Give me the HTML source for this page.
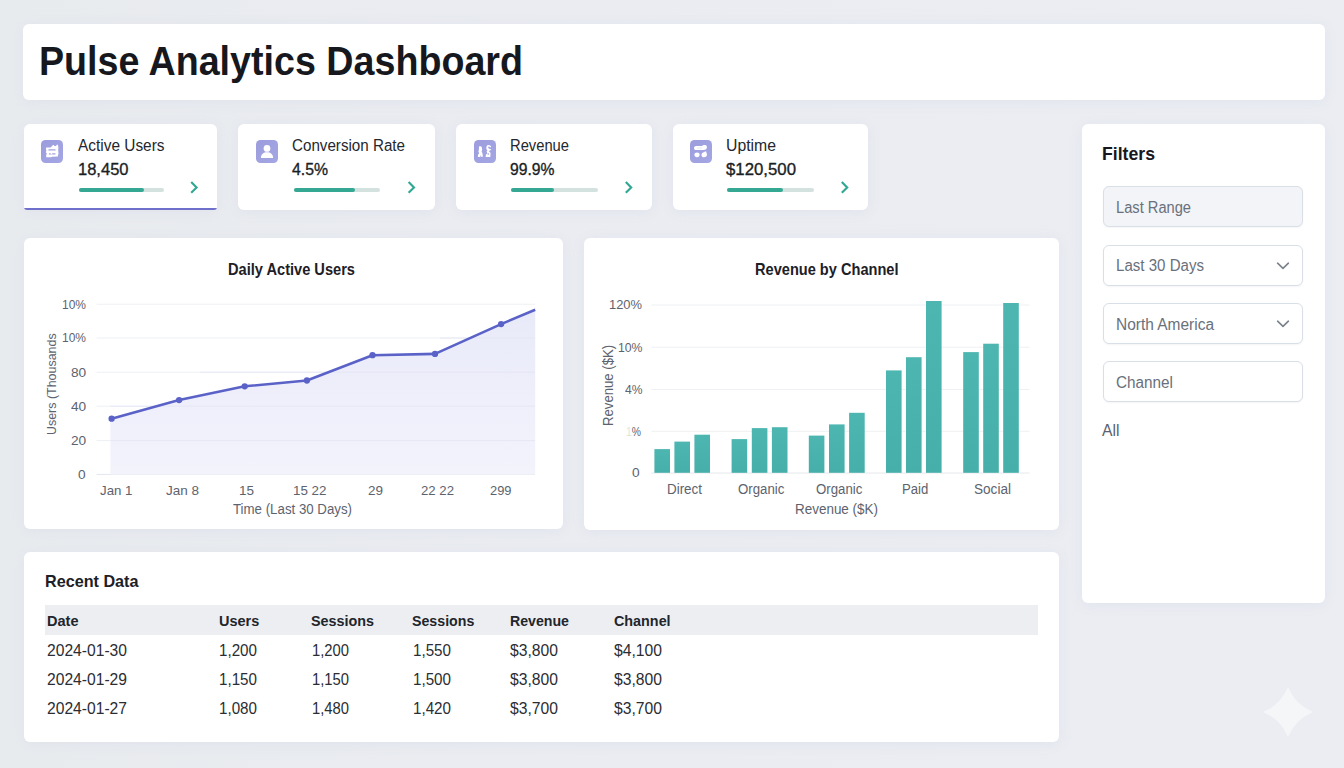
<!DOCTYPE html>
<html lang="en"><head><meta charset="utf-8"><title>Pulse Analytics Dashboard</title>
<style>
*{box-sizing:border-box;margin:0;padding:0}
html,body{width:1344px;height:768px;overflow:hidden}
body{position:relative;background:#e9ecf0;font-family:"Liberation Sans",sans-serif;}
.bg{position:absolute;left:0;top:0;width:1344px;height:768px;
 background:linear-gradient(90deg,#e8ebee 0%,#eaecf1 40%,#ebedf2 100%);}
.card{position:absolute;background:#fff;border-radius:6px;
 box-shadow:0 2px 14px rgba(115,128,200,0.075);}
.t{position:absolute;white-space:nowrap;line-height:1em;transform-origin:0 0;font-family:"Liberation Sans",sans-serif;}
.ico{position:absolute;width:22.4px;height:22.6px;border-radius:4.5px;background:linear-gradient(135deg,#9c9cdd,#a4a7e4);}
.track{position:absolute;height:4px;border-radius:3px;background:#d3e2df;}
.fill{position:absolute;left:0;top:0;height:100%;border-radius:3px;background:#35a893;}
.inp{position:absolute;left:1103px;width:199.5px;height:41px;border:1px solid #d9dfe6;border-radius:6px;background:#fff;
 box-shadow:0 1px 2px rgba(80,90,120,0.06);}
.abs{position:absolute}

</style></head>
<body>
<div class="bg"></div>
<!-- header -->
<div class="card" style="left:23px;top:23.6px;width:1302px;height:76.4px;"></div>

<!-- KPI cards -->
<div class="card" style="left:24px;top:124px;width:192.6px;height:86.2px;border-radius:6px 6px 3px 3px;overflow:hidden;"><div style="position:absolute;left:0;right:0;bottom:0;height:2.2px;background:#6f70cb;"></div></div>
<div class="card" style="left:238.2px;top:124px;width:196.8px;height:85.6px;"></div>
<div class="card" style="left:456px;top:124px;width:195.8px;height:85.6px;"></div>
<div class="card" style="left:672.8px;top:124px;width:195.4px;height:85.6px;"></div>

<!-- KPI icons -->
<div class="ico" style="left:41px;top:140px;"></div>
<div class="ico" style="left:256px;top:140px;"></div>
<div class="ico" style="left:473.6px;top:140px;"></div>
<div class="ico" style="left:689.7px;top:140px;"></div>

<!-- progress bars -->
<div class="track" style="left:78.8px;top:188.4px;width:85.2px;"><div class="fill" style="width:65.4px"></div></div>
<div class="track" style="left:293.5px;top:188.4px;width:86.6px;"><div class="fill" style="width:61.6px"></div></div>
<div class="track" style="left:511px;top:188.4px;width:87px;"><div class="fill" style="width:43.4px"></div></div>
<div class="track" style="left:727.4px;top:188.4px;width:86.6px;"><div class="fill" style="width:55.8px"></div></div>

<!-- chart cards -->
<div class="card" style="left:24.2px;top:238.2px;width:539px;height:291.2px;"></div>
<div class="card" style="left:584px;top:238.2px;width:475.2px;height:291.6px;"></div>
<!-- table card -->
<div class="card" style="left:24.2px;top:552.4px;width:1035px;height:190px;"></div>
<div class="abs" style="left:45px;top:604.5px;width:992.5px;height:30.3px;background:#eceef2;"></div>
<!-- filters card -->
<div class="card" style="left:1082px;top:124.2px;width:242.8px;height:478.4px;"></div>
<div class="inp" style="top:186px;background:#f2f4f7;"></div>
<div class="inp" style="top:245px;"></div>
<div class="inp" style="top:303px;"></div>
<div class="inp" style="top:361px;"></div>

<!-- vector layer -->
<svg class="abs" style="left:0;top:0" width="1344" height="768" viewBox="0 0 1344 768">
 <defs>
  <linearGradient id="bg" x1="0" y1="0" x2="0" y2="1">
   <stop offset="0" stop-color="#4eb6b0"/><stop offset="1" stop-color="#47afa9"/>
  </linearGradient>
  <linearGradient id="lg" x1="0" y1="0" x2="0" y2="1">
   <stop offset="0" stop-color="#e9eaf9"/><stop offset="1" stop-color="#f3f3fc"/>
  </linearGradient>
 </defs>
 <!-- line chart grid -->
 <g stroke="#eef0f4" stroke-width="1">
  <line x1="96.5" x2="535" y1="304.2" y2="304.2"/>
  <line x1="96.5" x2="535" y1="338" y2="338"/>
  <line x1="96.5" x2="535" y1="372.2" y2="372.2"/>
  <line x1="96.5" x2="535" y1="406.2" y2="406.2"/>
  <line x1="96.5" x2="535" y1="440.6" y2="440.6"/>
  <line x1="96.5" x2="535" y1="474.4" y2="474.4" stroke="#e4e6ee"/>
 </g>
 <path d="M110.4 474.4 L110.4 418.9 L111.5 418.7 L179.1 400.1 L244.7 386.3 L306.9 380.5 L372.5 355.2 L435 353.9 L501.1 324.1 L535.2 309.8 L535.2 474.4 Z" fill="url(#lg)"/>
 <g stroke="#e3e4f3" stroke-width="1" opacity="0.7">
  <line x1="110.4" x2="535" y1="440.6" y2="440.6"/>
  <line x1="110.4" x2="535" y1="406.2" y2="406.2"/>
  <line x1="200" x2="535" y1="372.2" y2="372.2"/>
  <line x1="440" x2="535" y1="338" y2="338"/>
 </g>
 <path d="M111.5 418.7 L179.1 400.1 L244.7 386.3 L306.9 380.5 L372.5 355.2 L435 353.9 L501.1 324.1 L535.2 309.8" fill="none" stroke="#5a62c8" stroke-width="2.6" stroke-linejoin="round" stroke-linecap="butt"/>
 <g fill="#5a62c8">
  <circle cx="111.6" cy="418.7" r="3.15"/><circle cx="179.1" cy="400.1" r="3.15"/><circle cx="244.7" cy="386.3" r="3.15"/>
  <circle cx="306.9" cy="380.5" r="3.15"/><circle cx="372.5" cy="355.2" r="3.15"/><circle cx="435" cy="353.9" r="3.15"/>
  <circle cx="501.1" cy="324.1" r="3.15"/>
 </g>

 <!-- bar chart grid -->
 <g stroke="#eef0f3" stroke-width="1">
  <line x1="651.3" x2="1029.6" y1="305" y2="305"/>
  <line x1="651.3" x2="1029.6" y1="347.2" y2="347.2"/>
  <line x1="651.3" x2="1029.6" y1="389.4" y2="389.4"/>
  <line x1="651.3" x2="1029.6" y1="431.3" y2="431.3"/>
  <line x1="651.3" x2="1029.6" y1="473" y2="473" stroke="#e6e8ec"/>
 </g>
 <g fill="url(#bg)">
  <rect x="654.4" y="449.1" width="15.6" height="23.7"/><rect x="674.4" y="441.6" width="15.6" height="31.2"/><rect x="694.4" y="434.7" width="15.6" height="38.1"/>
  <rect x="731.6" y="439.1" width="15.6" height="33.7"/><rect x="751.8" y="428.1" width="15.6" height="44.7"/><rect x="771.9" y="427.2" width="15.6" height="45.6"/>
  <rect x="808.8" y="435.6" width="15.6" height="37.2"/><rect x="829" y="424.4" width="15.6" height="48.4"/><rect x="849.1" y="412.8" width="15.6" height="60"/>
  <rect x="886" y="370.4" width="15.6" height="102.4"/><rect x="906" y="357.2" width="15.6" height="115.6"/><rect x="926" y="301" width="15.6" height="171.8"/>
  <rect x="963.2" y="352.1" width="15.6" height="120.7"/><rect x="983.2" y="343.7" width="15.6" height="129.1"/><rect x="1003.2" y="303" width="15.6" height="169.8"/>
 </g>


 <!-- KPI icon glyphs (local coords 0..22) -->
 <g fill="#fff">
  <!-- active users: swap-like glyph -->
  <g transform="translate(41,140)">
   <path d="M5.2 7.4 H9.6 L12 4.9 H13.4 L13 6.1 H15.2 L15.6 4.7 H16.9 L17.4 7.2 L17.2 10.4 L17.5 13.2 L16.8 16.6 L11.2 16.8 L10 17.3 H5.2 V14.6 L6.1 13.9 L4.8 12.3 L5.4 10.6 L4.9 9 Z"/>
   <rect x="7.3" y="9.3" width="7.4" height="1.3" rx="0.6" fill="#a2a2e2"/>
   <rect x="7.8" y="13.2" width="6.8" height="1.3" rx="0.6" fill="#a2a2e2"/>
   <path d="M9.6 11.6 L11.2 12.9 L11.2 14.8 L9.6 13.8 Z" fill="#fff"/>
  </g>
  <!-- conversion: person -->
  <g transform="translate(256,140)">
   <circle cx="11" cy="8.4" r="3.35"/>
   <path d="M4.9 17.9 C4.9 14.2 7.6 12.3 11 12.3 C14.4 12.3 17.1 14.2 17.1 17.9 Z"/>
  </g>
  <!-- revenue: two glyph blobs -->
  <g transform="translate(473.6,140)">
   <path d="M5.4 6.6 C6.6 6 8 6.4 8.3 7.6 L8.6 10.2 L8 11.2 L8.9 13.6 L9.3 16.6 L7.6 16.9 L7.3 15 L6.6 16.9 L4.3 16.9 L4.4 14.6 L5.6 13.6 L4.8 11.4 L5.3 9.4 Z"/>
   <path d="M14.2 5 C15.8 4.6 17.3 5.4 17.6 6.9 L16.4 7.4 C16 6.6 15.3 6.4 14.8 6.8 C14.2 7.6 15 8.6 16.2 9 L17.8 9.3 L16.6 10.6 L15.2 10.9 L17 13 L16.7 16.9 L12 16.9 L12.4 14.6 L13.8 13.6 L13 11.6 L13.9 10.4 C12.4 9.6 12.2 6.4 14.2 5 Z"/>
   <circle cx="14.7" cy="14" r="0.8" fill="#a2a2e2"/>
  </g>
  <!-- uptime: pill + two blobs -->
  <g transform="translate(689.7,140)">
   <path d="M6.4 5.9 H12.4 C13 5.1 14.4 4.9 15.6 5.1 C17.2 5.3 17.6 7.2 16.9 8.6 C16.4 9.6 15.4 10 14.2 10 H6.4 C3.6 10 3.6 5.9 6.4 5.9 Z"/>
   <ellipse cx="7.3" cy="14.8" rx="2.6" ry="2.35"/>
   <path d="M14.3 12.2 L15.2 11.4 H16.6 L16.8 13 C17.6 14 17.4 16 16.2 16.8 C14.6 17.8 12.2 17.2 11.8 15.4 C11.5 13.8 12.8 12.4 14.3 12.2 Z"/>
   <rect x="7.4" y="7.5" width="5" height="0.9" rx="0.4" fill="#e9e7f6"/>
  </g>
 </g>
 <!-- KPI chevrons -->
 <g fill="none" stroke="#2fa892" stroke-width="2.1" stroke-linecap="butt" stroke-linejoin="miter">
  <path d="M191.2 182 L196.6 187.4 L191.2 192.8"/>
  <path d="M408.6 182 L414 187.4 L408.6 192.8"/>
  <path d="M625.8 182 L631.2 187.4 L625.8 192.8"/>
  <path d="M841.8 182 L847.2 187.4 L841.8 192.8"/>
 </g>
 <!-- select chevrons -->
 <g fill="none" stroke="#7b828c" stroke-width="1.6" stroke-linecap="round" stroke-linejoin="round">
  <path d="M1277.6 263.2 L1283 268.4 L1288.4 263.2"/>
  <path d="M1277.6 321.2 L1283 326.4 L1288.4 321.2"/>
 </g>
 <!-- sparkle watermark -->
 <path d="M1288 688.6 Q1295 705 1311.4 712 Q1295 719 1288 735.4 Q1281 719 1264.6 712 Q1281 705 1288 688.6 Z" fill="#f4f6f8" stroke="#f4f6f8" stroke-width="1.4" stroke-linejoin="round"/>
</svg>

<!-- rotated axis titles -->
<span class="t" id="yl1" style="left:45.2px;top:434.5px;font-size:13.6px;color:#5d636e;transform:rotate(-90deg) scaleX(0.915);transform-origin:0 0;">Users (Thousands</span>
<span class="t" id="yl2" style="left:600.8px;top:425.5px;font-size:14px;color:#5d636e;transform:rotate(-90deg) scaleX(0.94);transform-origin:0 0;">Revenue ($K)</span>

<!-- text layer -->
<span class="t" style="left:38.50px;top:40.79px;font-size:41px;color:#16181d;transform:scaleX(0.9182);font-weight:700;">Pulse Analytics Dashboard</span>
<span class="t" style="left:77.50px;top:138.36px;font-size:16px;color:#24272d;transform:scaleX(0.9633);">Active Users</span>
<span class="t" style="left:77.70px;top:160.64px;font-size:17.2px;color:#1b1e24;transform:scaleX(0.9605);-webkit-text-stroke:0.35px #1b1e24;">18,450</span>
<span class="t" style="left:291.80px;top:138.36px;font-size:16px;color:#24272d;transform:scaleX(0.9482);">Conversion Rate</span>
<span class="t" style="left:292.00px;top:160.64px;font-size:17.2px;color:#1b1e24;transform:scaleX(0.9187);-webkit-text-stroke:0.35px #1b1e24;">4.5%</span>
<span class="t" style="left:510.00px;top:138.36px;font-size:16px;color:#24272d;transform:scaleX(0.9212);">Revenue</span>
<span class="t" style="left:510.20px;top:160.64px;font-size:17.2px;color:#1b1e24;transform:scaleX(0.9131);-webkit-text-stroke:0.35px #1b1e24;">99.9%</span>
<span class="t" style="left:725.50px;top:138.36px;font-size:16px;color:#24272d;transform:scaleX(0.9864);">Uptime</span>
<span class="t" style="left:725.70px;top:160.64px;font-size:17.2px;color:#1b1e24;transform:scaleX(0.9765);-webkit-text-stroke:0.35px #1b1e24;">$120,500</span>
<span class="t" style="left:227.50px;top:261.03px;font-size:16.5px;color:#1d2026;transform:scaleX(0.8857);font-weight:700;">Daily Active Users</span>
<span class="t" style="left:755.25px;top:261.23px;font-size:16.5px;color:#1d2026;transform:scaleX(0.8842);font-weight:700;">Revenue by Channel</span>
<span class="t" style="left:62.00px;top:297.59px;font-size:13.6px;color:#5d636e;transform:scaleX(0.8817);">10%</span>
<span class="t" style="left:62.00px;top:331.39px;font-size:13.6px;color:#5d636e;transform:scaleX(0.8817);">10%</span>
<span class="t" style="left:70.80px;top:365.59px;font-size:13.6px;color:#5d636e;transform:scaleX(1.0050);">80</span>
<span class="t" style="left:70.80px;top:399.59px;font-size:13.6px;color:#5d636e;transform:scaleX(1.0050);">40</span>
<span class="t" style="left:70.80px;top:433.99px;font-size:13.6px;color:#5d636e;transform:scaleX(1.0050);">20</span>
<span class="t" style="left:78.40px;top:467.79px;font-size:13.6px;color:#5d636e;transform:scaleX(1.0050);">0</span>
<span class="t" style="left:99.75px;top:484.49px;font-size:13.6px;color:#5d636e;transform:scaleX(0.9770);">Jan 1</span>
<span class="t" style="left:166.20px;top:484.49px;font-size:13.6px;color:#5d636e;transform:scaleX(0.9920);">Jan 8</span>
<span class="t" style="left:238.50px;top:484.49px;font-size:13.6px;color:#5d636e;transform:scaleX(0.9917);">15</span>
<span class="t" style="left:293.25px;top:484.49px;font-size:13.6px;color:#5d636e;transform:scaleX(0.9844);">15 22</span>
<span class="t" style="left:367.90px;top:484.49px;font-size:13.6px;color:#5d636e;transform:scaleX(0.9917);">29</span>
<span class="t" style="left:420.60px;top:484.49px;font-size:13.6px;color:#5d636e;transform:scaleX(0.9697);">22 22</span>
<span class="t" style="left:490.25px;top:484.49px;font-size:13.6px;color:#5d636e;transform:scaleX(0.9477);">299</span>
<span class="t" style="left:232.50px;top:501.75px;font-size:14px;color:#5d636e;transform:scaleX(0.9481);">Time (Last 30 Days)</span>
<span class="t" style="left:609.30px;top:298.39px;font-size:13.6px;color:#5d636e;transform:scaleX(0.9488);">120%</span>
<span class="t" style="left:617.80px;top:340.59px;font-size:13.6px;color:#5d636e;transform:scaleX(0.9001);">10%</span>
<span class="t" style="left:624.80px;top:382.79px;font-size:13.6px;color:#5d636e;transform:scaleX(0.8903);">4%</span>
<span class="t" style="left:626.40px;top:424.69px;font-size:13.6px;color:#5d636e;transform:scaleX(0.7631);"><span style="color:#dde6da">1</span>%</span>
<span class="t" style="left:632.00px;top:465.99px;font-size:13.6px;color:#5d636e;transform:scaleX(1.0050);">0</span>
<span class="t" style="left:666.50px;top:482.15px;font-size:14px;color:#5d636e;transform:scaleX(0.9573);">Direct</span>
<span class="t" style="left:738.45px;top:482.15px;font-size:14px;color:#5d636e;transform:scaleX(0.9443);">Organic</span>
<span class="t" style="left:815.85px;top:482.15px;font-size:14px;color:#5d636e;transform:scaleX(0.9443);">Organic</span>
<span class="t" style="left:901.85px;top:482.15px;font-size:14px;color:#5d636e;transform:scaleX(0.9382);">Paid</span>
<span class="t" style="left:973.80px;top:482.15px;font-size:14px;color:#5d636e;transform:scaleX(0.9701);">Social</span>
<span class="t" style="left:794.70px;top:502.15px;font-size:14px;color:#5d636e;transform:scaleX(0.9608);">Revenue ($K)</span>
<span class="t" style="left:45.00px;top:572.61px;font-size:17px;color:#1d2026;transform:scaleX(0.9515);font-weight:700;">Recent Data</span>
<span class="t" style="left:47.20px;top:613.08px;font-size:15.5px;color:#22252b;transform:scaleX(0.9372);font-weight:700;">Date</span>
<span class="t" style="left:219.00px;top:613.08px;font-size:15.5px;color:#22252b;transform:scaleX(0.9352);font-weight:700;">Users</span>
<span class="t" style="left:311.40px;top:613.08px;font-size:15.5px;color:#22252b;transform:scaleX(0.9256);font-weight:700;">Sessions</span>
<span class="t" style="left:412.00px;top:613.08px;font-size:15.5px;color:#22252b;transform:scaleX(0.9153);font-weight:700;">Sessions</span>
<span class="t" style="left:510.00px;top:613.08px;font-size:15.5px;color:#22252b;transform:scaleX(0.9130);font-weight:700;">Revenue</span>
<span class="t" style="left:614.40px;top:613.08px;font-size:15.5px;color:#22252b;transform:scaleX(0.9255);font-weight:700;">Channel</span>
<span class="t" style="left:46.60px;top:642.99px;font-size:15.6px;color:#2a2d33;transform:scaleX(1.0027);">2024-01-30</span>
<span class="t" style="left:218.80px;top:642.99px;font-size:15.6px;color:#2a2d33;transform:scaleX(0.9736);">1,200</span>
<span class="t" style="left:312.00px;top:642.99px;font-size:15.6px;color:#2a2d33;transform:scaleX(0.9480);">1,200</span>
<span class="t" style="left:412.80px;top:642.99px;font-size:15.6px;color:#2a2d33;transform:scaleX(0.9736);">1,550</span>
<span class="t" style="left:510.20px;top:642.99px;font-size:15.6px;color:#2a2d33;transform:scaleX(1.0062);">$3,800</span>
<span class="t" style="left:614.00px;top:642.99px;font-size:15.6px;color:#2a2d33;transform:scaleX(1.0062);">$4,100</span>
<span class="t" style="left:46.60px;top:671.89px;font-size:15.6px;color:#2a2d33;transform:scaleX(1.0027);">2024-01-29</span>
<span class="t" style="left:218.80px;top:671.89px;font-size:15.6px;color:#2a2d33;transform:scaleX(0.9736);">1,150</span>
<span class="t" style="left:312.00px;top:671.89px;font-size:15.6px;color:#2a2d33;transform:scaleX(0.9480);">1,150</span>
<span class="t" style="left:412.80px;top:671.89px;font-size:15.6px;color:#2a2d33;transform:scaleX(0.9736);">1,500</span>
<span class="t" style="left:510.20px;top:671.89px;font-size:15.6px;color:#2a2d33;transform:scaleX(1.0062);">$3,800</span>
<span class="t" style="left:614.00px;top:671.89px;font-size:15.6px;color:#2a2d33;transform:scaleX(1.0062);">$3,800</span>
<span class="t" style="left:46.60px;top:700.99px;font-size:15.6px;color:#2a2d33;transform:scaleX(1.0027);">2024-01-27</span>
<span class="t" style="left:218.80px;top:700.99px;font-size:15.6px;color:#2a2d33;transform:scaleX(0.9736);">1,080</span>
<span class="t" style="left:312.00px;top:700.99px;font-size:15.6px;color:#2a2d33;transform:scaleX(0.9480);">1,480</span>
<span class="t" style="left:412.80px;top:700.99px;font-size:15.6px;color:#2a2d33;transform:scaleX(0.9736);">1,420</span>
<span class="t" style="left:510.20px;top:700.99px;font-size:15.6px;color:#2a2d33;transform:scaleX(1.0062);">$3,700</span>
<span class="t" style="left:614.00px;top:700.99px;font-size:15.6px;color:#2a2d33;transform:scaleX(1.0062);">$3,700</span>
<span class="t" style="left:1102.00px;top:144.12px;font-size:19px;color:#16181d;transform:scaleX(0.9293);font-weight:700;">Filters</span>
<span class="t" style="left:1116.20px;top:199.99px;font-size:15.6px;color:#69707b;transform:scaleX(0.9403);">Last Range</span>
<span class="t" style="left:1116.20px;top:258.39px;font-size:15.6px;color:#69707b;transform:scaleX(0.9669);">Last 30 Days</span>
<span class="t" style="left:1116.20px;top:316.59px;font-size:15.6px;color:#69707b;transform:scaleX(0.9919);">North America</span>
<span class="t" style="left:1116.20px;top:374.99px;font-size:15.6px;color:#69707b;transform:scaleX(0.9812);">Channel</span>
<span class="t" style="left:1102.20px;top:422.42px;font-size:16.4px;color:#5a626d;transform:scaleX(0.9605);">All</span>
</body></html>
